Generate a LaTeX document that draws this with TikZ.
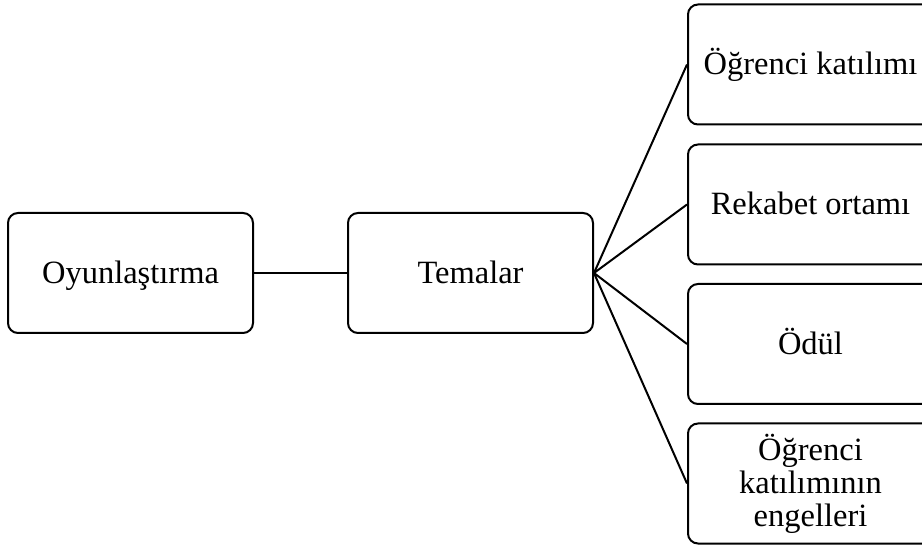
\documentclass[tikz,border=0pt]{standalone}
\usepackage{fontspec}
\setmainfont{Liberation Serif}
\begin{document}
\begin{tikzpicture}[x=1pt,y=-1pt,
  box/.style={draw, line width=2pt, rounded corners=10pt, minimum width=245pt,
    minimum height=120pt, inner sep=0pt, font=\fontsize{32.5}{33}\selectfont, align=center},
  oneline/.style={text height=21pt, text depth=0pt},
  link/.style={line width=2pt}]
\useasboundingbox (0,0) rectangle (922,545);
\clip (0,0) rectangle (922,545);
\node[box, oneline] (o) at (130.5,273) {Oyunlaştırma};
\node[box, oneline] (t) at (470.5,273) {Temalar};
\node[box, oneline] (r1) at (810.5,64.5) {Öğrenci katılımı};
\node[box, oneline] (r2) at (810.5,204.5) {Rekabet ortamı};
\node[box, oneline] (r3) at (810.5,344) {Ödül};
\node[box] (r4) at (810.5,483.5) {Öğrenci\\katılımının\\engelleri};
\draw[link] (o.east) -- (t.west);
\draw[link] (t.east) -- (r1.west);
\draw[link] (t.east) -- (r2.west);
\draw[link] (t.east) -- (r3.west);
\draw[link] (t.east) -- (r4.west);
\end{tikzpicture}
\end{document}
